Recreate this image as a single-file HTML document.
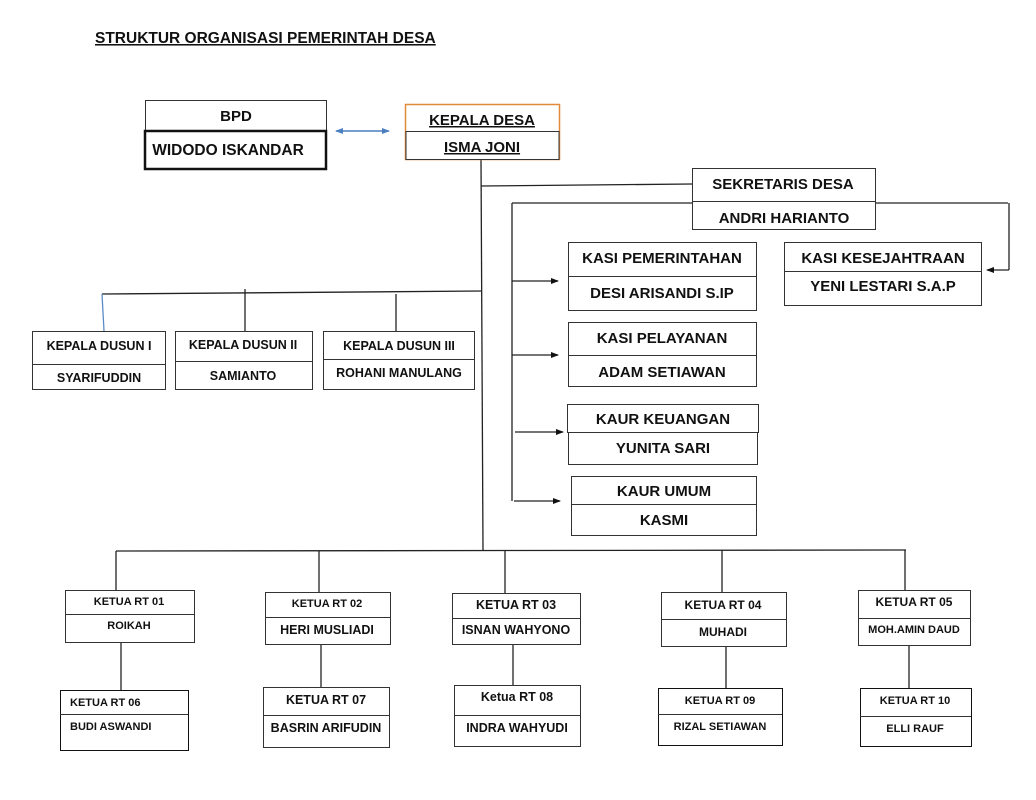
<!DOCTYPE html>
<html><head><meta charset="utf-8"><style>
html,body{margin:0;padding:0;background:#fff;width:1036px;height:800px;overflow:hidden}
svg text{font-family:"Liberation Sans",Arial,sans-serif;font-weight:bold;fill:#111;text-anchor:middle}
</style></head><body>
<svg width="1036" height="800" viewBox="0 0 1036 800" xmlns="http://www.w3.org/2000/svg">
<defs>
<marker id="ah" markerWidth="8" markerHeight="8" refX="7" refY="4" orient="auto" markerUnits="userSpaceOnUse"><path d="M0,1 L8,4 L0,7 z" fill="#111"/></marker>
<marker id="bh" markerWidth="8" markerHeight="8" refX="7" refY="4" orient="auto-start-reverse" markerUnits="userSpaceOnUse"><path d="M0,1 L8,4 L0,7 z" fill="#4a7fc0"/></marker>
</defs>
<text x="95" y="43" style="text-anchor:start;font-size:15.5px" text-decoration="underline">STRUKTUR ORGANISASI PEMERINTAH DESA</text>

<g stroke="#222" stroke-width="1.3" fill="none">
<line x1="481" y1="159" x2="483" y2="550"/>
<line x1="481" y1="186" x2="692" y2="184"/>
<line x1="512" y1="203" x2="1008" y2="203"/>
<line x1="512" y1="203" x2="512" y2="501"/>
<line x1="1009" y1="203" x2="1009" y2="270"/>
<line x1="1009" y1="270" x2="987" y2="270" marker-end="url(#ah)"/>
<line x1="512" y1="281" x2="558" y2="281" marker-end="url(#ah)"/>
<line x1="512" y1="355" x2="558" y2="355" marker-end="url(#ah)"/>
<line x1="515" y1="432" x2="563" y2="432" marker-end="url(#ah)"/>
<line x1="514" y1="501" x2="560" y2="501" marker-end="url(#ah)"/>
<line x1="102" y1="294" x2="482" y2="291"/>
<line x1="245" y1="289" x2="245" y2="331"/>
<line x1="396" y1="294" x2="396" y2="331"/>
<line x1="116" y1="551" x2="906" y2="550"/>
<line x1="116" y1="551" x2="116" y2="590"/>
<line x1="319" y1="551" x2="319" y2="592"/>
<line x1="505" y1="551" x2="505" y2="593"/>
<line x1="722" y1="550" x2="722" y2="592"/>
<line x1="905" y1="550" x2="905" y2="590"/>
<line x1="121" y1="642" x2="121" y2="690"/>
<line x1="321" y1="644" x2="321" y2="687"/>
<line x1="513" y1="644" x2="513" y2="685"/>
<line x1="726" y1="646" x2="726" y2="688"/>
<line x1="909" y1="645" x2="909" y2="688"/>
</g>
<line x1="102" y1="294" x2="104" y2="331" stroke="#5b8cc7" stroke-width="1.3"/>
<line x1="336" y1="131" x2="389" y2="131" stroke="#4a7fc0" stroke-width="1.5" marker-start="url(#bh)" marker-end="url(#bh)"/>

<g fill="#fff" stroke="#333" stroke-width="1">
<rect x="145.5" y="100.5" width="181" height="31"/>
<rect x="145" y="131" width="181" height="38" stroke="#111" stroke-width="2.5"/>
<rect x="405.5" y="104.5" width="154" height="55" stroke="#e08a3a" stroke-width="1.5"/>
<rect x="406" y="131.5" width="153" height="28"/>
<rect x="692.5" y="168.5" width="183" height="61"/><line x1="692" y1="201.5" x2="875" y2="201.5"/>
<rect x="568.5" y="242.5" width="188" height="68"/><line x1="568" y1="276.5" x2="756" y2="276.5"/>
<rect x="784.5" y="242.5" width="197" height="63"/><line x1="784" y1="271.5" x2="981" y2="271.5"/>
<rect x="568.5" y="322.5" width="188" height="64"/><line x1="568" y1="355.5" x2="756" y2="355.5"/>
<rect x="567.5" y="404.5" width="191" height="28"/>
<rect x="568.5" y="432.5" width="189" height="32"/>
<rect x="571.5" y="476.5" width="185" height="59"/><line x1="571" y1="504.5" x2="756" y2="504.5"/>
<rect x="32.5" y="331.5" width="133" height="58"/><line x1="32" y1="364.5" x2="165" y2="364.5"/>
<rect x="175.5" y="331.5" width="137" height="58"/><line x1="175" y1="361.5" x2="312" y2="361.5"/>
<rect x="323.5" y="331.5" width="151" height="58"/><line x1="323" y1="359.5" x2="474" y2="359.5"/>
<rect x="65.5" y="590.5" width="129" height="52"/><line x1="65" y1="614.5" x2="194" y2="614.5"/>
<rect x="265.5" y="592.5" width="125" height="52"/><line x1="265" y1="617.5" x2="390" y2="617.5"/>
<rect x="452.5" y="593.5" width="128" height="51"/><line x1="452" y1="618.5" x2="580" y2="618.5"/>
<rect x="661.5" y="592.5" width="125" height="54"/><line x1="661" y1="619.5" x2="786" y2="619.5"/>
<rect x="858.5" y="590.5" width="112" height="55"/><line x1="858" y1="618.5" x2="970" y2="618.5"/>
<rect x="60.5" y="690.5" width="128" height="60" stroke="#111"/><line x1="60" y1="714.5" x2="188" y2="714.5"/>
<rect x="263.5" y="687.5" width="126" height="60"/><line x1="263" y1="715.5" x2="389" y2="715.5"/>
<rect x="454.5" y="685.5" width="126" height="61"/><line x1="454" y1="715.5" x2="580" y2="715.5"/>
<rect x="658.5" y="688.5" width="124" height="57" stroke="#111"/><line x1="658" y1="714.5" x2="782" y2="714.5"/>
<rect x="860.5" y="688.5" width="111" height="58" stroke="#111"/><line x1="860" y1="716.5" x2="971" y2="716.5"/>
</g>

<g style="font-size:15px">
<text x="236" y="121">BPD</text>
<text x="228" y="155" style="font-size:15.5px">WIDODO ISKANDAR</text>
<text x="482" y="125" text-decoration="underline">KEPALA DESA</text>
<text x="482" y="152" text-decoration="underline">ISMA JONI</text>
<text x="783" y="189">SEKRETARIS DESA</text>
<text x="784" y="223">ANDRI HARIANTO</text>
<text x="662" y="263">KASI PEMERINTAHAN</text>
<text x="662" y="298">DESI ARISANDI S.IP</text>
<text x="883" y="263">KASI KESEJAHTRAAN</text>
<text x="883" y="291">YENI LESTARI S.A.P</text>
<text x="662" y="343">KASI PELAYANAN</text>
<text x="662" y="377">ADAM SETIAWAN</text>
<text x="663" y="424">KAUR KEUANGAN</text>
<text x="663" y="453">YUNITA SARI</text>
<text x="664" y="496">KAUR UMUM</text>
<text x="664" y="525">KASMI</text>
</g>
<g style="font-size:12.5px">
<text x="99" y="350">KEPALA DUSUN I</text>
<text x="99" y="382">SYARIFUDDIN</text>
<text x="243" y="349">KEPALA DUSUN II</text>
<text x="243" y="380">SAMIANTO</text>
<text x="399" y="350">KEPALA DUSUN III</text>
<text x="399" y="377">ROHANI MANULANG</text>
</g>
<g style="font-size:11px">
<text x="129" y="605">KETUA RT 01</text>
<text x="129" y="629">ROIKAH</text>
<text x="327" y="607">KETUA RT 02</text>
<text x="327" y="634" style="font-size:12.5px">HERI MUSLIADI</text>
<text x="516" y="609" style="font-size:12.5px">KETUA RT 03</text>
<text x="516" y="634" style="font-size:12.5px">ISNAN WAHYONO</text>
<text x="723" y="609" style="font-size:12px">KETUA RT 04</text>
<text x="723" y="636" style="font-size:12px">MUHADI</text>
<text x="914" y="606" style="font-size:12px">KETUA RT 05</text>
<text x="914" y="633">MOH.AMIN DAUD</text>
<text x="70" y="706" style="text-anchor:start">KETUA RT 06</text>
<text x="70" y="730" style="text-anchor:start">BUDI ASWANDI</text>
<text x="326" y="704" style="font-size:12.5px">KETUA RT 07</text>
<text x="326" y="732" style="font-size:12.5px">BASRIN ARIFUDIN</text>
<text x="517" y="701" style="font-size:12.5px">Ketua RT 08</text>
<text x="517" y="732" style="font-size:12.5px">INDRA WAHYUDI</text>
<text x="720" y="704">KETUA RT 09</text>
<text x="720" y="730">RIZAL SETIAWAN</text>
<text x="915" y="704">KETUA RT 10</text>
<text x="915" y="732">ELLI RAUF</text>
</g>
</svg>
</body></html>
